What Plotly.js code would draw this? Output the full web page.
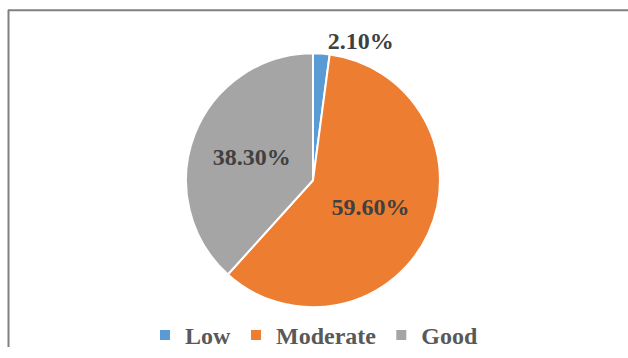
<!DOCTYPE html>
<html>
<head>
<meta charset="utf-8">
<script src="https://cdn.plot.ly/plotly-3.0.1.min.js"></script>
<style>html,body{margin:0;padding:0;background:#fff;}#chart{width:628px;height:358px;}</style>
</head>
<body>
<div id="chart"></div>
<script>
const categories = ["Low", "Moderate", "Good"];
const values = [2.1, 59.6, 38.3];
const labelsText = ["2.10%", "59.60%", "38.30%"];
const colors = ["#5B9BD5", "#ED7D31", "#A5A5A5"];

const W = 628, H = 358;
const cx = 313, cy = 186, r = 131;
const labelFont = { family: "Liberation Serif", size: 24, color: "#404040", weight: "bold" };

const trace = {
  type: "pie",
  labels: categories,
  values: values,
  text: labelsText,
  textinfo: "text",
  textposition: ["outside", "inside", "inside"],
  insidetextorientation: "horizontal",
  sort: false,
  direction: "clockwise",
  rotation: 0,
  marker: { colors: colors, line: { color: "#ffffff", width: 2 } },
  textfont: labelFont,
  insidetextfont: labelFont,
  outsidetextfont: labelFont,
  domain: { x: [(cx - r) / W, (cx + r) / W], y: [(H - cy - r) / H, (H - cy + r) / H] },
  hoverinfo: "none"
};

const layout = {
  width: W, height: H,
  margin: { l: 0, r: 0, t: 0, b: 0 },
  paper_bgcolor: "#ffffff",
  showlegend: true,
  legend: {
    orientation: "h",
    x: 0.5, xanchor: "center",
    y: (H - 346) / H, yanchor: "middle",
    font: { family: "Liberation Serif", size: 24, color: "#595959", weight: "bold" },
    itemwidth: 30,
    traceorder: "normal"
  },
  shapes: [
    { type: "line", xref: "paper", yref: "paper", x0: 8 / W, x1: 1, y0: 1 - 10.5 / H, y1: 1 - 10.5 / H, line: { color: "#808080", width: 2 } },
    { type: "line", xref: "paper", yref: "paper", x0: 8.5 / W, x1: 8.5 / W, y0: 0, y1: 1 - 10 / H, line: { color: "#808080", width: 2 } }
  ]
};

Plotly.newPlot("chart", [trace], layout, { displayModeBar: false, staticPlot: true });
</script>
</body>
</html>
